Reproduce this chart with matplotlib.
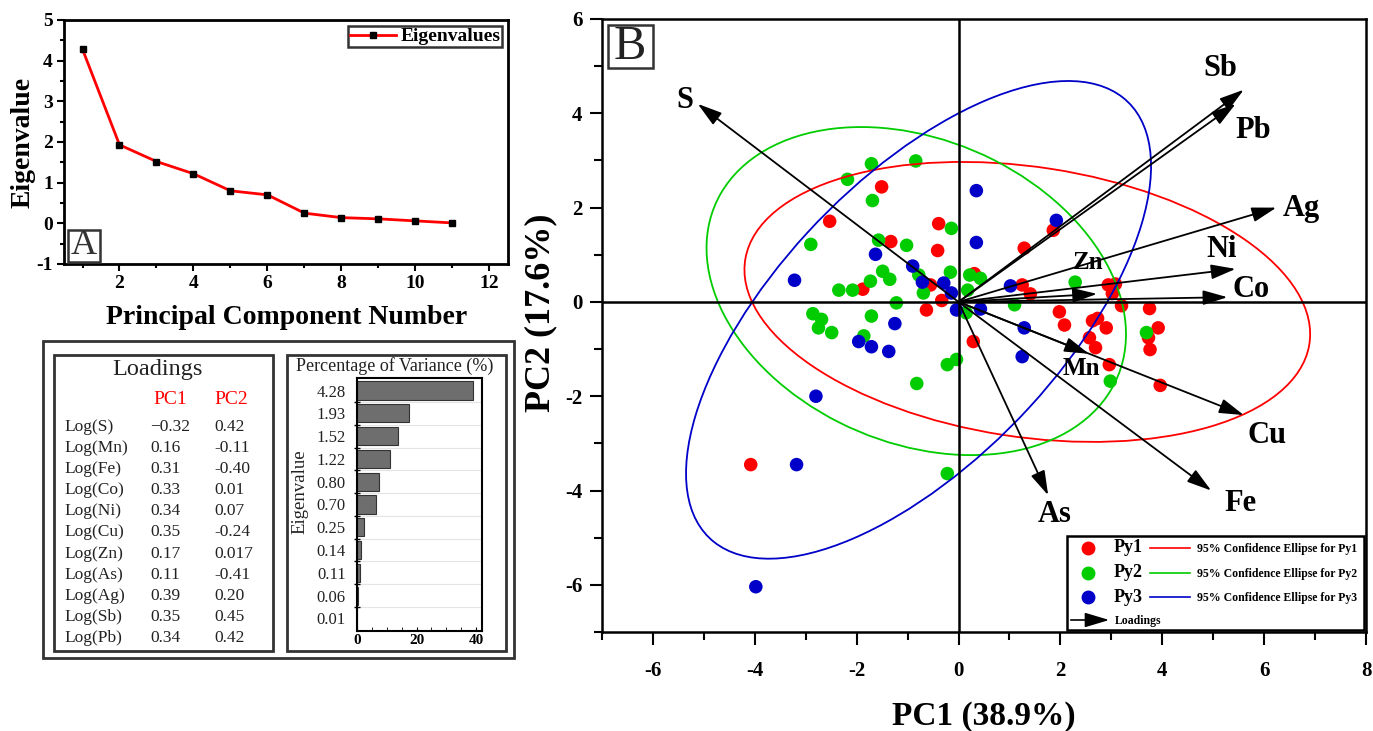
import numpy as np
import matplotlib
matplotlib.use('Agg')
import matplotlib.pyplot as plt
from matplotlib.patches import Rectangle, Ellipse
from matplotlib.lines import Line2D

plt.rcParams['font.family'] = ['Liberation Serif', 'DejaVu Serif']
plt.rcParams['font.weight'] = 'bold'
plt.rcParams['axes.unicode_minus'] = False

# ---------------- data ----------------
pc_numbers = [1, 2, 3, 4, 5, 6, 7, 8, 9, 10, 11]
eigenvalues = [4.28, 1.93, 1.52, 1.22, 0.80, 0.70, 0.25, 0.14, 0.11, 0.06, 0.01]
eig_labels = ["4.28", "1.93", "1.52", "1.22", "0.80", "0.70", "0.25", "0.14", "0.11", "0.06", "0.01"]
variance_pct = [38.9, 17.6, 13.9, 11.2, 7.3, 6.4, 2.3, 1.3, 1.0, 0.5, 0.1]

elements = ['S', 'Mn', 'Fe', 'Co', 'Ni', 'Cu', 'Zn', 'As', 'Ag', 'Sb', 'Pb']
pc1_text = ['\u22120.32', '0.16', '0.31', '0.33', '0.34', '0.35', '0.17', '0.11', '0.39', '0.35', '0.34']
pc2_text = ['0.42', '-0.11', '-0.40', '0.01', '0.07', '-0.24', '0.017', '-0.41', '0.20', '0.45', '0.42']
pc1_load = [float(s.replace('\u2212', '-')) for s in pc1_text]
pc2_load = [float(s) for s in pc2_text]
arrow_scale_x = 16.0
arrow_scale_y = 10.0

py1_x = [-2.53, -1.51, -0.39, -1.33, -0.41, -0.55, -0.33, -1.88, -0.63, 0.29, 0.31, 1.86, 1.29,
         1.25, 1.41, 2.94, 3.08, 3.20, 3.75, 1.98, 2.08, 2.63, 2.73, 2.90, 2.57, 2.69, 2.96, 3.92,
         3.73, 3.76, 3.96, -4.08, 3.02]
py1_y = [1.71, 2.44, 1.66, 1.28, 1.09, 0.36, 0.03, 0.27, -0.17, -0.84, 0.60, 1.52, 1.14,
         0.36, 0.17, 0.36, 0.38, -0.08, -0.14, -0.21, -0.49, -0.40, -0.35, -0.55, -0.76, -0.97, -1.33, -0.55,
         -0.76, -1.01, -1.77, -3.45, 0.18]

py2_x = [-2.18, -1.71, -0.84, -1.69, -0.14, -1.57, -1.02, -2.90, -1.49, -1.35, -1.73, -0.78, -0.69,
         -0.16, 0.22, 0.43, 0.18, -2.35, -2.08, -1.22, -1.71, -2.86, -2.69, -2.75, -2.49, -1.86,
         -0.22, -0.04, -0.82, -0.22, 1.10, 2.29, 0.15, 2.98, 3.69]
py2_y = [2.60, 2.93, 2.99, 2.15, 1.56, 1.31, 1.20, 1.22, 0.65, 0.48, 0.44, 0.57, 0.19,
         0.63, 0.57, 0.50, 0.25, 0.25, 0.25, -0.02, -0.30, -0.25, -0.37, -0.55, -0.65, -0.72,
         -1.33, -1.22, -1.73, -3.64, -0.06, 0.42, -0.23, -1.68, -0.65]

py3_x = [-3.22, 0.35, 0.35, -1.63, -0.90, -0.71, -0.29, -0.14, -0.04, 1.92, 1.02, 0.43, 1.29,
         1.25, -1.25, -1.96, -1.71, -1.37, -2.80, -3.18, -3.98]
py3_y = [0.46, 2.36, 1.26, 1.01, 0.76, 0.42, 0.40, 0.19, -0.17, 1.73, 0.34, -0.15, -0.55,
         -1.16, -0.46, -0.84, -0.95, -1.05, -2.00, -3.45, -6.04]

groups = ['Py1', 'Py2', 'Py3']
ellipse_center = [(1.35, 0.0), (-0.83, 0.23), (-0.785, -0.38)]
ellipse_semi = [(5.61, 2.86), (4.36, 3.17), (6.19, 2.86)]
ellipse_angle = [-9.5, -28.6, 49.6]

# ---------------- styles / layout ----------------
RED, GREEN, BLUE = '#ff0000', '#00cc00', '#0000c8'
group_colors = [RED, GREEN, BLUE]

W, H = 1373, 731
fig = plt.figure(figsize=(W / 100, H / 100), dpi=100)


def fx(px):
    return px / W


def fy(py):
    return 1 - py / H


def axes_px(l, t, r, b):
    return fig.add_axes([fx(l), fy(b), (r - l) / W, (b - t) / H])


def T(px, py, s, **kw):
    kw.setdefault('ha', 'center')
    kw.setdefault('va', 'center')
    return fig.text(fx(px), fy(py), s, **kw)


def R(x0, y0, x1, y1, **kw):
    kw.setdefault('fill', False)
    r = Rectangle((fx(x0), fy(y1)), (x1 - x0) / W, (y1 - y0) / H, transform=fig.transFigure, **kw)
    fig.add_artist(r)
    return r


# ---------------- Panel A: scree plot ----------------
axA = axes_px(64, 20, 508, 264)
axA.plot(pc_numbers, eigenvalues, color=RED, lw=2, marker='s', ms=5,
         mfc='black', mec='black', zorder=3, label='Eigenvalues')
axA.set_xlim(0.5, 12.5)
axA.set_ylim(-1, 5)
axA.set_xticks(range(2, 13, 2))
axA.set_xticks(range(1, 13, 2), minor=True)
axA.set_yticks(range(-1, 6))
axA.set_yticks(np.arange(-0.5, 5, 1), minor=True)
axA.tick_params(which='both', direction='out', width=1.5, labelsize=14, pad=3)
axA.tick_params(which='major', length=5)
axA.tick_params(which='minor', length=3)
for s in axA.spines.values():
    s.set_linewidth(2)
legA = axA.legend(loc='upper right', prop={'weight': 'bold', 'size': 14}, frameon=True,
                  fancybox=False, edgecolor='black', borderpad=0.1, handlelength=2.4,
                  handletextpad=0.2, borderaxespad=0.3)
legA.get_frame().set_linewidth(1.8)
T(23, 142, 'Eigenvalue', rotation=90, fontsize=20)
T(287, 318, 'Principal Component Number', fontsize=20)
R(68, 230, 100, 262, edgecolor='#333333', lw=1.8)
T(84, 246, 'A', fontsize=26, fontweight='normal', color='#333333')

# ---------------- Table panel ----------------
R(43, 341, 514, 658, edgecolor='#333333', lw=2)
R(54, 355, 273, 651, edgecolor='#333333', lw=2)
R(287, 355, 506, 651, edgecolor='#333333', lw=2)
T(157, 369, 'Loadings', fontsize=17.5, fontweight='normal', color='#222222')
T(170, 400, 'PC1', fontsize=14, fontweight='normal', color=RED)
T(231, 400, 'PC2', fontsize=14, fontweight='normal', color=RED)
for i, el in enumerate(elements):
    yy = 427 + 21.1 * i
    T(64, yy, f'Log({el})', ha='left', fontsize=12.5, fontweight='normal', color='#222222')
    T(150, yy, pc1_text[i], ha='left', fontsize=12.5, fontweight='normal', color='#222222')
    T(214, yy, pc2_text[i], ha='left', fontsize=12.5, fontweight='normal', color='#222222')

axV = axes_px(357, 378, 482, 631)
ypos = np.arange(len(eigenvalues))
for yv in ypos[:-1] + 0.5:
    axV.axhline(yv, color='#e4e4e4', lw=0.8, zorder=0)
axV.barh(ypos, variance_pct, height=0.8, color='#6e6e6e', edgecolor='#333333', lw=0.8, zorder=2)
axV.set_ylim(10.55, -0.55)
axV.set_xlim(0, 42)
axV.set_yticks(ypos)
axV.set_yticklabels(eig_labels, fontsize=12, fontweight='normal', color='#222222')
axV.set_yticks(ypos[:-1] + 0.5, minor=True)
axV.tick_params(axis='y', which='major', length=0, pad=8)
axV.tick_params(axis='y', which='minor', length=4, direction='inout', width=1)
axV.set_xticks([0, 20, 40])
axV.set_xticks(np.arange(0, 41, 5), minor=True)
axV.tick_params(axis='x', which='both', direction='in', length=3, labelsize=11, pad=2)
for s in axV.spines.values():
    s.set_linewidth(1.5)
T(395, 366, 'Percentage of Variance (%)', fontsize=13, fontweight='normal', color='#222222')
T(300, 492, 'Eigenvalue', rotation=90, fontsize=13.5, fontweight='normal', color='#222222')

# ---------------- Panel B: biplot ----------------
axB = axes_px(602, 19, 1366, 632)
axB.set_xlim(-7, 8)
axB.set_ylim(-7, 6)
axB.scatter(py1_x, py1_y, s=95, c=RED, edgecolors='none', zorder=2)
axB.scatter(py2_x, py2_y, s=95, c=GREEN, edgecolors='none', zorder=2)
axB.scatter(py3_x, py3_y, s=95, c=BLUE, edgecolors='none', zorder=2)
for c, (a, b), ang, col in zip(ellipse_center, ellipse_semi, ellipse_angle, group_colors):
    axB.add_patch(Ellipse(c, 2 * a, 2 * b, angle=ang, fill=False, edgecolor=col, lw=1.3, zorder=3))
axB.axhline(0, color='black', lw=1.8, zorder=4)
axB.axvline(0, color='black', lw=1.8, zorder=4)

# arrow label offsets in pixels (dx right, dy down) and font sizes
label_offset_px = {'S': (-13, -3), 'Mn': (-8, 15), 'Fe': (29, 13), 'Co': (24, -8), 'Ni': (-14, -19),
                   'Cu': (23, 20), 'Zn': (-9, -31), 'As': (7, 19), 'Ag': (25, 1), 'Sb': (-23, -21),
                   'Pb': (18, 27)}
label_size = {'Zn': 18, 'Mn': 18}
for el, l1, l2 in zip(elements, pc1_load, pc2_load):
    tip = (l1 * arrow_scale_x, l2 * arrow_scale_y)
    axB.annotate('', xy=tip, xytext=(0, 0),
                 arrowprops=dict(arrowstyle='-|>,head_length=1.5,head_width=0.45', color='black',
                                 lw=1.3, shrinkA=0, shrinkB=0, mutation_scale=10), zorder=5)
    dx, dy = label_offset_px[el]
    axB.annotate(el, xy=tip, xytext=(dx * 0.72, -dy * 0.72), textcoords='offset points',
                 ha='center', va='center', fontsize=label_size.get(el, 22), fontweight='bold',
                 zorder=6)

axB.set_xticks(range(-6, 9, 2))
axB.set_xticks(range(-7, 9), minor=True)
axB.set_yticks(range(-6, 7, 2))
axB.set_yticks(range(-7, 7), minor=True)
axB.tick_params(which='both', direction='out', width=1.5, labelsize=15)
axB.tick_params(axis='x', which='both', pad=12)
axB.tick_params(axis='y', which='both', pad=5)
axB.tick_params(which='major', length=9)
axB.tick_params(which='minor', length=6)
for s in axB.spines.values():
    s.set_linewidth(1.8)
T(984, 717, 'PC1 (38.9%)', fontsize=24)
T(541, 313, 'PC2 (17.6%)', rotation=90, fontsize=26)
R(608, 25, 653, 68, edgecolor='#333333', lw=1.8)
T(630, 47, 'B', fontsize=35, fontweight='normal', color='#222222')

# manual legend for panel B
R(1067, 536, 1364, 630, edgecolor='black', lw=1.8, facecolor='white', fill=True, zorder=10)
for i, (g, col) in enumerate(zip(groups, group_colors)):
    yy = 548 + 24.5 * i
    fig.add_artist(Line2D([fx(1088)], [fy(yy)], marker='o', ms=9, color=col, ls='none',
                          transform=fig.transFigure, zorder=11))
    T(1114, yy, g, ha='left', fontsize=13, zorder=11)
    fig.add_artist(Line2D([fx(1150), fx(1190)], [fy(yy), fy(yy)], color=col, lw=1.2,
                          transform=fig.transFigure, zorder=11))
    T(1197, yy + 1, f'95% Confidence Ellipse for {g}', ha='left', fontsize=8.5, zorder=11)
fig.add_artist(matplotlib.patches.FancyArrowPatch(
    (fx(1068), fy(620)), (fx(1112), fy(620)), transform=fig.transFigure,
    arrowstyle='-|>,head_length=1.5,head_width=0.45', mutation_scale=10, color='black', lw=1.2,
    zorder=11))
T(1115, 621, 'Loadings', ha='left', fontsize=8.5, zorder=11)

fig.savefig('out.png', dpi=100)
